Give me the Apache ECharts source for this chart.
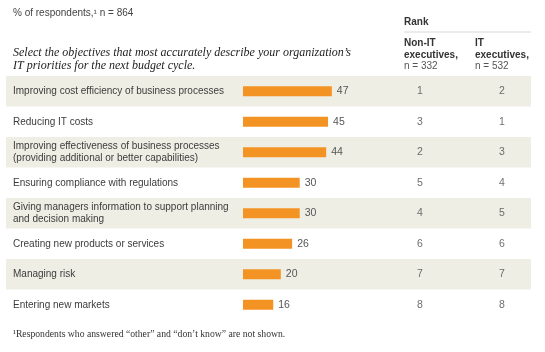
<!DOCTYPE html>
<html>
<head>
<meta charset="utf-8">
<script src="https://cdn.jsdelivr.net/npm/echarts@6/dist/echarts.min.js"></script>
<style>
  body { margin: 0; background: #fff; }
  #main { width: 545px; height: 352px; }
</style>
</head>
<body>
<div id="main"></div>
<script>
  // objectives, top to bottom
  var objectives = [
    'Improving cost efficiency of business processes',
    'Reducing IT costs',
    'Improving effectiveness of business processes\n(providing additional or better capabilities)',
    'Ensuring compliance with regulations',
    'Giving managers information to support planning\nand decision making',
    'Creating new products or services',
    'Managing risk',
    'Entering new markets'
  ]
  var respondents = [47, 45, 44, 30, 30, 26, 20, 16]
  var rankNonIT = [1, 3, 2, 5, 4, 6, 7, 8]
  var rankIT = [2, 1, 3, 4, 5, 6, 7, 8]
  var rankColumns = ['Non-IT', 'IT']

  var sans = '"Liberation Sans", Arial, sans-serif'
  var serif = '"Liberation Serif", "Times New Roman", serif'
  var rowTop = 76
  var rowsHeight = 244

  var rankData = []
  rankNonIT.forEach(function (r, i) { rankData.push([0, i, r]) })
  rankIT.forEach(function (r, i) { rankData.push([1, i, r]) })

  var myChart = echarts.init(document.getElementById('main'))
  myChart.setOption({
    animation: false,
    grid: [
      { left: 6, right: 14, top: rowTop, height: rowsHeight },   // stripes + labels
      { left: 243, width: 189, top: rowTop, height: rowsHeight }, // bars
      { left: 379, width: 164, top: rowTop, height: rowsHeight }  // ranks
    ],
    xAxis: [
      { gridIndex: 0, type: 'value', min: 0, max: 1, show: false },
      { gridIndex: 1, type: 'value', min: 0, max: 100, show: false },
      { gridIndex: 2, type: 'category', data: rankColumns, show: false }
    ],
    yAxis: [
      {
        gridIndex: 0, type: 'category', data: objectives, inverse: true,
        axisLine: { show: false }, axisTick: { show: false },
        splitLine: { show: false },
        splitArea: { show: true, areaStyle: { color: ['#efeee5', 'rgba(255,255,255,0)'] } },
        axisLabel: {
          inside: true, margin: 7, align: 'left',
          color: '#3c3c3c', fontFamily: sans, fontSize: 10, lineHeight: 12
        }
      },
      { gridIndex: 1, type: 'category', data: objectives, inverse: true, show: false },
      { gridIndex: 2, type: 'category', data: objectives, inverse: true, show: false }
    ],
    series: [
      {
        type: 'bar', xAxisIndex: 1, yAxisIndex: 1,
        data: respondents, barWidth: 10,
        itemStyle: { color: '#f39323' },
        label: {
          show: true, position: 'right', distance: 5,
          color: '#555', fontFamily: sans, fontSize: 10.5
        }
      },
      {
        type: 'scatter', xAxisIndex: 2, yAxisIndex: 2,
        data: rankData, symbolSize: 1,
        itemStyle: { color: 'rgba(0,0,0,0)' },
        label: {
          show: true, position: 'inside', color: '#4a4a4a',
          fontFamily: sans, fontSize: 10.5,
          formatter: function (p) { return p.value[2] }
        }
      }
    ],
    graphic: [
      { type: 'text', left: 13, top: 8,
        style: { text: '% of respondents,¹ n = 864', fill: '#444', font: '10px ' + sans } },
      { type: 'text', left: 13, top: 46,
        style: { text: 'Select the objectives that most accurately describe your organization’s\nIT priorities for the next budget cycle.',
          fill: '#222', font: 'italic 12px ' + serif, lineHeight: 13 } },
      { type: 'text', left: 404, top: 17,
        style: { text: 'Rank', fill: '#333', font: 'bold 10px ' + sans } },
      { type: 'line', shape: { x1: 404, y1: 32, x2: 531, y2: 32 },
        style: { stroke: '#d8d8d8', lineWidth: 1 } },
      { type: 'text', left: 404, top: 37,
        style: { text: 'Non-IT\nexecutives,', fill: '#333', font: 'bold 10px ' + sans, lineHeight: 12 } },
      { type: 'text', left: 404, top: 61,
        style: { text: 'n = 332', fill: '#555', font: '10px ' + sans } },
      { type: 'text', left: 475, top: 37,
        style: { text: 'IT\nexecutives,', fill: '#333', font: 'bold 10px ' + sans, lineHeight: 12 } },
      { type: 'text', left: 475, top: 61,
        style: { text: 'n = 532', fill: '#555', font: '10px ' + sans } },
      { type: 'text', left: 13, top: 329,
        style: { text: '¹Respondents who answered “other” and “don’t know” are not shown.', fill: '#333', font: '9.7px ' + serif } }
    ]
  })
</script>
</body>
</html>
